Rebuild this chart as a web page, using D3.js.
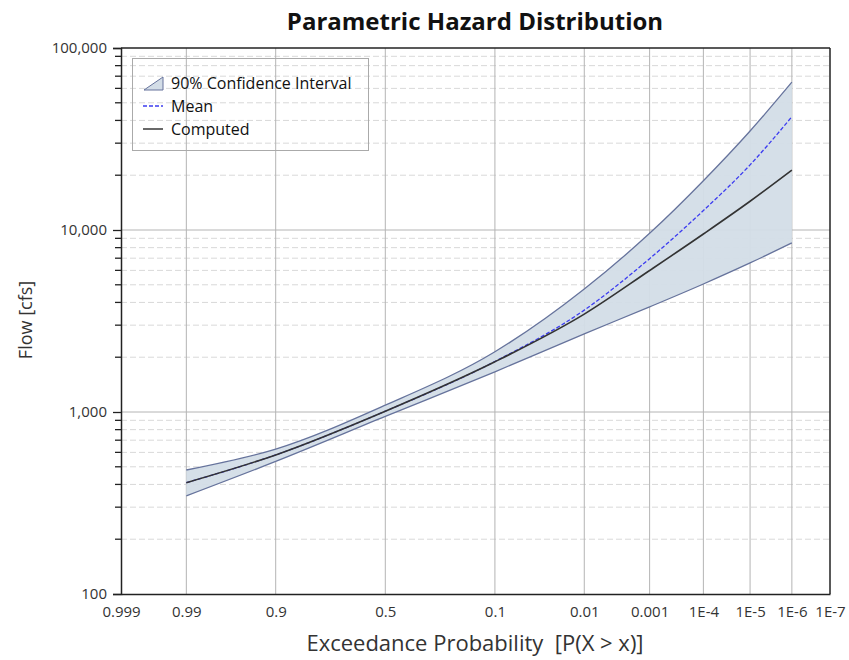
<!DOCTYPE html>
<html><head><meta charset="utf-8">
<script src="https://cdn.jsdelivr.net/npm/d3@7"></script>
<style>body{margin:0;background:#fff;} text{font-family:"Open Sans","Noto Sans",sans-serif;}</style>
</head><body><svg id="c" width="849" height="660"></svg>
<script>
// ---- data ----
const probs    = [0.99, 0.9, 0.5, 0.1, 0.01, 0.001, 1e-4, 1e-5, 1e-6];
const computed = [409, 581, 1010, 1888, 3450, 5990, 9510, 14390, 21330];
const mean     = [409, 581, 1010, 1895, 3630, 6960, 12790, 22800, 41900];
const upper    = [480, 625, 1090, 2143, 4740, 9590, 18660, 34990, 64900];
const lower    = [346, 535, 945, 1663, 2690, 3780, 5050, 6590, 8490];
const xTickVals   = [0.999, 0.99, 0.9, 0.5, 0.1, 0.01, 0.001, 1e-4, 1e-5, 1e-6, 1e-7];
const xTickLabels = ["0.999","0.99","0.9","0.5","0.1","0.01","0.001","1E-4","1E-5","1E-6","1E-7"];
const yTickVals   = [100, 1000, 10000, 100000];
const yTickLabels = ["100","1,000","10,000","100,000"];
const legendItems = ["90% Confidence Interval","Mean","Computed"];

// inverse normal CDF (Acklam)
function qnorm(p){
  const a=[-3.969683028665376e+01,2.209460984245205e+02,-2.759285104469687e+02,1.383577518672690e+02,-3.066479806614716e+01,2.506628277459239e+00];
  const b=[-5.447609879822406e+01,1.615858368580409e+02,-1.556989798598866e+02,6.680131188771972e+01,-1.328068155288572e+01];
  const c=[-7.784894002430293e-03,-3.223964580411365e-01,-2.400758277161838e+00,-2.549732539343734e+00,4.374664141464968e+00,2.938163982698783e+00];
  const d=[7.784695709041462e-03,3.224671290700398e-01,2.445134137142996e+00,3.754408661907416e+00];
  const pl=0.02425, ph=1-pl; let q,r;
  if(p<pl){q=Math.sqrt(-2*Math.log(p));return (((((c[0]*q+c[1])*q+c[2])*q+c[3])*q+c[4])*q+c[5])/((((d[0]*q+d[1])*q+d[2])*q+d[3])*q+1);}
  if(p<=ph){q=p-0.5;r=q*q;return (((((a[0]*r+a[1])*r+a[2])*r+a[3])*r+a[4])*r+a[5])*q/(((((b[0]*r+b[1])*r+b[2])*r+b[3])*r+b[4])*r+1);}
  q=Math.sqrt(-2*Math.log(1-p));return -(((((c[0]*q+c[1])*q+c[2])*q+c[3])*q+c[4])*q+c[5])/((((d[0]*q+d[1])*q+d[2])*q+d[3])*q+1);
}
const zOf = p => -qnorm(p);   // exceedance prob -> standard normal variate

const svg = d3.select("#c");
const L=121, R=830, T=48, B=594;
const x = d3.scaleLinear().domain([zOf(0.999), zOf(1e-7)]).range([L,R]);
const y = d3.scaleLog().domain([100,100000]).range([B,T]);

// grid
const g = svg.append("g");
const minors=[];
for(let e=2;e<5;e++) for(let m=2;m<10;m++) minors.push(m*Math.pow(10,e));
g.selectAll(".mn").data(minors).join("line")
  .attr("x1",L).attr("x2",R).attr("y1",d=>y(d)).attr("y2",d=>y(d))
  .attr("stroke","#d9d9d9").attr("stroke-dasharray","6,3").attr("stroke-width",1);
g.selectAll(".mj").data(yTickVals.slice(1,3)).join("line")
  .attr("x1",L).attr("x2",R).attr("y1",d=>y(d)).attr("y2",d=>y(d))
  .attr("stroke","#b4b4b4").attr("stroke-width",1);
g.selectAll(".vx").data(xTickVals.slice(1,10)).join("line")
  .attr("x1",d=>x(zOf(d))).attr("x2",d=>x(zOf(d))).attr("y1",T).attr("y2",B)
  .attr("stroke","#b4b4b4").attr("stroke-width",1);

// data rows
const rows = probs.map((p,i)=>({z:zOf(p),c:computed[i],m:mean[i],u:upper[i],l:lower[i]}));
const curve = d3.curveMonotoneX;
svg.append("path").datum(rows)
  .attr("d", d3.area().x(d=>x(d.z)).y0(d=>y(d.l)).y1(d=>y(d.u)).curve(curve))
  .attr("fill","#d3dde7").attr("fill-opacity",0.95);
["u","l"].forEach(k=>{
  svg.append("path").datum(rows)
    .attr("d", d3.line().x(d=>x(d.z)).y(d=>y(d[k])).curve(curve))
    .attr("fill","none").attr("stroke","#66739c").attr("stroke-width",1.3);
});
svg.append("path").datum(rows)
  .attr("d", d3.line().x(d=>x(d.z)).y(d=>y(d.m)).curve(curve))
  .attr("fill","none").attr("stroke","#3c3cf0").attr("stroke-width",1.3).attr("stroke-dasharray","4,2");
svg.append("path").datum(rows)
  .attr("d", d3.line().x(d=>x(d.z)).y(d=>y(d.c)).curve(curve))
  .attr("fill","none").attr("stroke","#333").attr("stroke-width",1.6);

// frame
svg.append("line").attr("x1",L).attr("x2",R).attr("y1",T).attr("y2",T).attr("stroke","#222").attr("stroke-width",1.5);
svg.append("line").attr("x1",R).attr("x2",R).attr("y1",T).attr("y2",B).attr("stroke","#222").attr("stroke-width",1.5);

// y axis
const ya = svg.append("g").attr("transform",`translate(${L},0)`)
  .call(d3.axisLeft(y).tickValues(yTickVals).tickFormat((d,i)=>yTickLabels[i]).tickSize(8).tickPadding(6));
ya.select(".domain").attr("stroke","#222").attr("stroke-width",1.5);
ya.selectAll(".tick line").attr("stroke","#222").attr("stroke-width",1.3);
ya.selectAll("text").attr("font-size",15).attr("fill","#333").attr("font-family","'Open Sans',sans-serif");
svg.append("g").selectAll("line").data(minors).join("line")
  .attr("x1",L-6).attr("x2",L).attr("y1",d=>y(d)).attr("y2",d=>y(d))
  .attr("stroke","#222").attr("stroke-width",1.3);

// x axis
const xa = svg.append("g").attr("transform",`translate(0,${B})`)
  .call(d3.axisBottom(x).tickValues(xTickVals.map(zOf)).tickFormat((d,i)=>xTickLabels[i]).tickSize(0).tickPadding(12));
xa.select(".domain").attr("stroke","#222").attr("stroke-width",1.5);
xa.selectAll("text").attr("font-size",15).attr("fill","#333").attr("font-family","'Open Sans',sans-serif");

// titles
svg.append("text").attr("x",475).attr("y",30).attr("text-anchor","middle")
  .attr("font-size",24).attr("font-weight","bold").attr("fill","#111").text("Parametric Hazard Distribution");
svg.append("text").attr("x",475).attr("y",651).attr("text-anchor","middle")
  .attr("font-size",22).attr("fill","#333").attr("xml:space","preserve").text("Exceedance Probability  [P(X > x)]");
svg.append("text").attr("transform","translate(32,320) rotate(-90)").attr("text-anchor","middle")
  .attr("font-size",18).attr("fill","#333").text("Flow [cfs]");

// legend (transparent box)
const lg = svg.append("g");
lg.append("rect").attr("x",132.5).attr("y",58.5).attr("width",236).attr("height",92)
  .attr("fill","none").attr("stroke","#aaa").attr("stroke-width",1);
lg.append("path").attr("d","M144,90 L163,77 L163,90 Z").attr("fill","#d3dde7").attr("stroke","#66739c").attr("stroke-width",1);
lg.append("line").attr("x1",143).attr("x2",163).attr("y1",106).attr("y2",106).attr("stroke","#3c3cf0").attr("stroke-width",1.3).attr("stroke-dasharray","4,2");
lg.append("line").attr("x1",143).attr("x2",163).attr("y1",129).attr("y2",129).attr("stroke","#444").attr("stroke-width",1.6);
lg.selectAll("text.li").data(legendItems).join("text")
  .attr("x",171).attr("y",(d,i)=>89+i*23).attr("font-size",16).attr("fill","#111").text(d=>d);
</script></body></html>
